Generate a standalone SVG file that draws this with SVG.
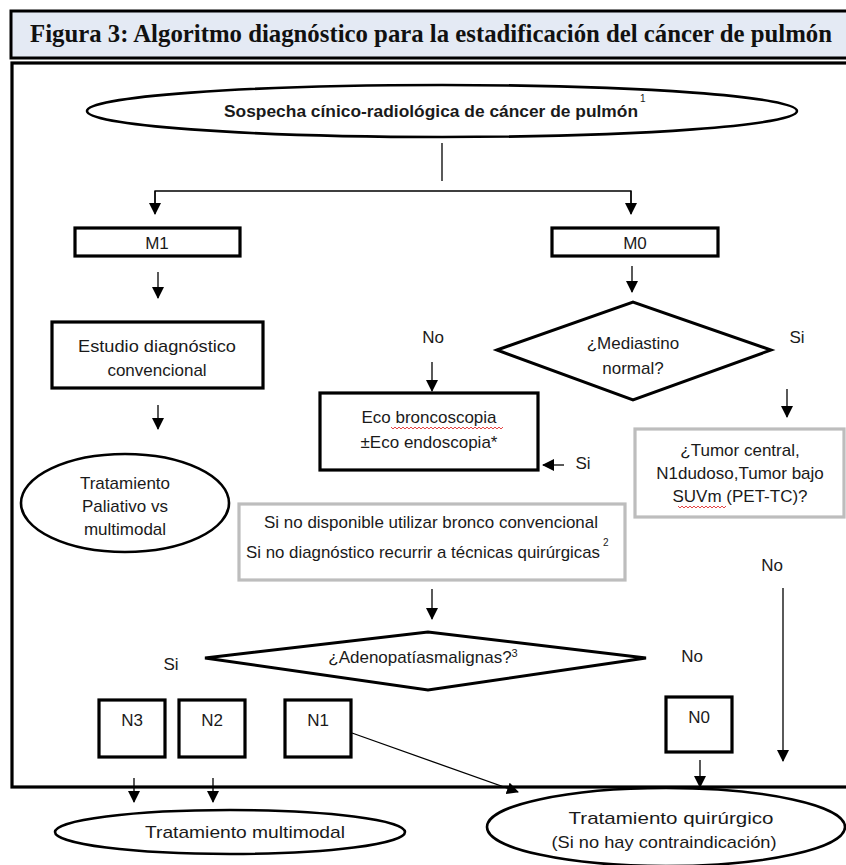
<svg xmlns="http://www.w3.org/2000/svg" width="846" height="865" viewBox="0 0 846 865">
<defs>
<marker id="ah" markerUnits="userSpaceOnUse" markerWidth="12" markerHeight="14" refX="11" refY="6" orient="auto">
<path d="M0,0 L12,6 L0,12 Z" fill="#000"/>
</marker>
<style>
.t{font-family:"Liberation Sans","Noto Sans",Arial,sans-serif;font-size:17px;fill:#1a1a1a;text-anchor:middle}
.s{font-family:"Liberation Sans","Noto Sans",Arial,sans-serif;font-size:10px;fill:#1a1a1a}
.box{fill:#fff;stroke:#000;stroke-width:3.2}
.gbox{fill:#fff;stroke:#bdbdbd;stroke-width:3.2}
.ell{fill:#fff;stroke:#000;stroke-width:2.6}
.c{fill:none;stroke:#000;stroke-width:1.3}
.ca{fill:none;stroke:#000;stroke-width:1.3;marker-end:url(#ah)}
.wv{fill:none;stroke:#e03030;stroke-width:0.9}
</style>
</defs>
<rect width="846" height="865" fill="#fff"/>
<g id="title">
<rect x="11" y="11" width="838" height="47" fill="#e4eaf4" stroke="#000" stroke-width="3"/>
<text x="30" y="42" font-family="Liberation Serif,Times New Roman,serif" font-size="25" font-weight="bold" fill="#111" textLength="802" lengthAdjust="spacingAndGlyphs">Figura 3: Algoritmo diagnóstico para la estadificación del cáncer de pulmón</text>
</g>
<g id="frame">
<rect x="12" y="63" width="838" height="724" fill="none" stroke="#000" stroke-width="3.2"/>
</g>
<g id="connectors">
<line class="c" x1="442" y1="143" x2="442" y2="181"/>
<polyline class="c" points="155,213 155,191 631,191 631,213"/>
<line class="ca" x1="155" y1="191" x2="155" y2="214"/>
<line class="ca" x1="631" y1="191" x2="631" y2="214"/>
<line class="ca" x1="158" y1="272" x2="158" y2="298"/>
<line class="ca" x1="632" y1="266" x2="632" y2="292"/>
<line class="ca" x1="158" y1="405" x2="158" y2="429"/>
<line class="ca" x1="432" y1="362" x2="432" y2="391"/>
<line class="ca" x1="787" y1="389" x2="787" y2="417"/>
<line class="ca" x1="564" y1="465" x2="543" y2="465"/>
<line class="ca" x1="432" y1="589" x2="432" y2="619"/>
<line class="ca" x1="783" y1="588" x2="783" y2="761"/>
<line class="ca" x1="700" y1="760" x2="700" y2="787"/>
<line class="ca" x1="134" y1="778" x2="134" y2="802"/>
<line class="ca" x1="213" y1="778" x2="213" y2="802"/>
<line class="ca" x1="352" y1="733" x2="518" y2="792"/>
</g>
<g id="n-sospecha">
<ellipse class="ell" cx="442" cy="111" rx="355" ry="26"/>
<text class="t" x="431" y="117" font-weight="bold" textLength="414" lengthAdjust="spacingAndGlyphs">Sospecha cínico-radiológica de cáncer de pulmón</text>
<text class="s" x="640" y="102">1</text>
</g>
<g id="n-m1">
<rect class="box" x="75" y="228" width="165" height="28"/>
<text class="t" x="157" y="249" font-size="16">M1</text>
</g>
<g id="n-m0">
<rect class="box" x="552" y="228" width="166" height="28"/>
<text class="t" x="635" y="249" font-size="16">M0</text>
</g>
<g id="n-estudio">
<rect class="box" x="52" y="322" width="211" height="66"/>
<text class="t" x="157" y="352" textLength="158" lengthAdjust="spacingAndGlyphs">Estudio diagnóstico</text>
<text class="t" x="157" y="376">convencional</text>
</g>
<g id="n-paliativo">
<ellipse class="ell" cx="125" cy="503" rx="104" ry="49"/>
<text class="t" x="125" y="489">Tratamiento</text>
<text class="t" x="125" y="512">Paliativo vs</text>
<text class="t" x="125" y="535">multimodal</text>
</g>
<g id="n-mediastino">
<polygon points="497,350 633,302 771,350 633,400" fill="#fff" stroke="#000" stroke-width="3"/>
<text class="t" x="633" y="349">¿Mediastino</text>
<text class="t" x="633" y="374">normal?</text>
<text class="t" x="433" y="343">No</text>
<text class="t" x="797" y="343">Si</text>
</g>
<g id="n-eco">
<rect class="box" x="320" y="393" width="218" height="77"/>
<text class="t" x="429" y="423">Eco broncoscopia</text>
<text class="t" x="429" y="448">±Eco endoscopia*</text>
<path class="wv" d="M391 427 l2 2 l2 -2 l2 2 l2 -2 l2 2 l2 -2 l2 2 l2 -2 l2 2 l2 -2 l2 2 l2 -2 l2 2 l2 -2 l2 2 l2 -2 l2 2 l2 -2 l2 2 l2 -2 l2 2 l2 -2 l2 2 l2 -2 l2 2 l2 -2 l2 2 l2 -2 l2 2 l2 -2 l2 2 l2 -2 l2 2 l2 -2 l2 2 l2 -2 l2 2 l2 -2 l2 2 l2 -2 l2 2 l2 -2 l2 2 l2 -2 l2 2 l2 -2 l2 2 l2 -2 l2 2 l2 -2 l2 2 l2 -2 l2 2 l2 -2 l2 2 l2 -2"/>
<text class="t" x="583" y="469">Si</text>
</g>
<g id="n-tumor">
<rect class="gbox" x="635" y="429" width="209" height="88"/>
<text class="t" x="740" y="456">¿Tumor central,</text>
<text class="t" x="740" y="479">N1dudoso,Tumor bajo</text>
<text class="t" x="740" y="502">SUVm (PET-TC)?</text>
<path class="wv" d="M678 506 l2 2 l2 -2 l2 2 l2 -2 l2 2 l2 -2 l2 2 l2 -2 l2 2 l2 -2 l2 2 l2 -2 l2 2 l2 -2 l2 2 l2 -2 l2 2 l2 -2 l2 2 l2 -2 l2 2 l2 -2 l2 2 l2 -2"/>
</g>
<g id="n-nodisponible">
<rect class="gbox" x="239" y="504" width="386" height="76"/>
<text class="t" x="431" y="528" textLength="334" lengthAdjust="spacingAndGlyphs">Si no disponible utilizar bronco convencional</text>
<text class="t" x="423" y="558" textLength="354" lengthAdjust="spacingAndGlyphs">Si no diagnóstico recurrir a técnicas quirúrgicas</text>
<text class="s" x="603" y="546">2</text>
</g>
<g id="n-adenopatias">
<polygon points="205,658 428,632 646,658 428,690" fill="#fff" stroke="#000" stroke-width="3"/>
<text class="t" x="423" y="663">¿Adenopatíasmalignas?<tspan font-size="11" baseline-shift="super">3</tspan></text>
<text class="t" x="171" y="670">Si</text>
<text class="t" x="692" y="662">No</text>
</g>
<g id="n-n3">
<rect class="box" x="99" y="700" width="66" height="57"/>
<text class="t" x="132" y="726" font-size="16">N3</text>
</g>
<g id="n-n2">
<rect class="box" x="179" y="700" width="66" height="57"/>
<text class="t" x="212" y="726" font-size="16">N2</text>
</g>
<g id="n-n1">
<rect class="box" x="285" y="700" width="66" height="57"/>
<text class="t" x="318" y="726" font-size="16">N1</text>
</g>
<g id="n-n0">
<rect class="box" x="666" y="697" width="66" height="55"/>
<text class="t" x="699" y="723" font-size="16">N0</text>
<text class="t" x="772" y="571">No</text>
</g>
<g id="n-multimodal">
<ellipse class="ell" cx="230" cy="832" rx="175" ry="22"/>
<text class="t" x="245" y="838" font-size="18" textLength="200" lengthAdjust="spacingAndGlyphs">Tratamiento multimodal</text>
</g>
<g id="n-quirurgico">
<ellipse class="ell" cx="666" cy="827" rx="179" ry="39"/>
<text class="t" x="671" y="824" font-size="18" textLength="205" lengthAdjust="spacingAndGlyphs">Tratamiento quirúrgico</text>
<text class="t" x="664" y="848" font-size="18" textLength="225" lengthAdjust="spacingAndGlyphs">(Si no hay contraindicación)</text>
</g>
</svg>
